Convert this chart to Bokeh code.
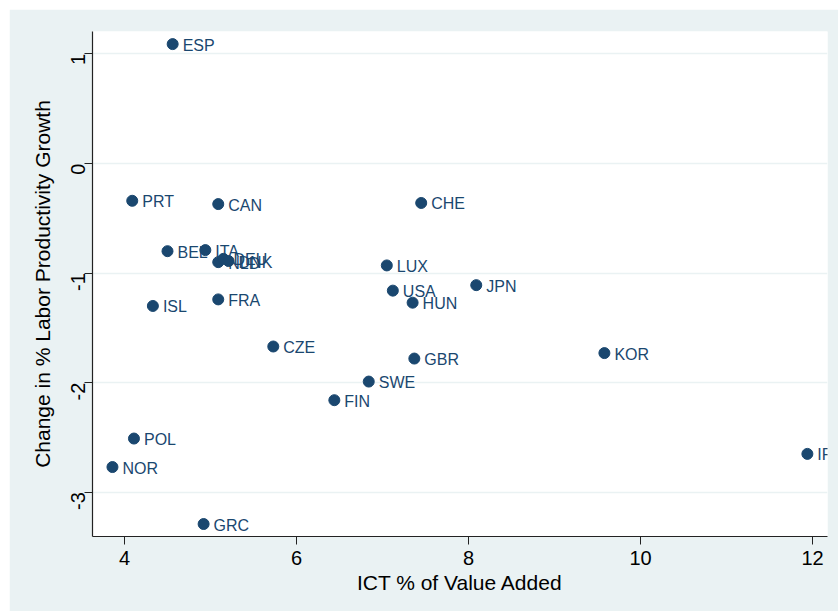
import math
from bokeh.plotting import figure
from bokeh.models import ColumnDataSource, Range1d, FixedTicker, PrintfTickFormatter
from bokeh.core.properties import value
from bokeh.embed import file_html
from bokeh.resources import INLINE

countries = ["ESP", "PRT", "CAN", "CHE", "BEL", "ITA", "NLD", "DEU", "DNK",
             "ISL", "FRA", "LUX", "USA", "HUN", "JPN", "CZE", "GBR", "KOR",
             "SWE", "FIN", "POL", "NOR", "GRC", "IRL"]
ict = [4.56, 4.09, 5.09, 7.45, 4.50, 4.94, 5.09, 5.15, 5.21,
       4.33, 5.09, 7.05, 7.12, 7.35, 8.09, 5.73, 7.37, 9.58,
       6.84, 6.44, 4.11, 3.86, 4.92, 11.94]
prod = [1.09, -0.34, -0.37, -0.36, -0.80, -0.79, -0.90, -0.87, -0.89,
        -1.30, -1.24, -0.93, -1.16, -1.27, -1.11, -1.67, -1.78, -1.73,
        -1.99, -2.16, -2.51, -2.77, -3.29, -2.65]
x_ticks = [4, 6, 8, 10, 12]
y_ticks = [-3, -2, -1, 0, 1]

NAVY = "#1a476f"
BG = "#eaf2f3"
FONT = "Liberation Sans"

src = ColumnDataSource(dict(x=ict, y=prod, label=countries))

p = figure(width=829, height=602, output_backend="svg", toolbar_location=None,
           x_range=Range1d(3.628, 12.174), y_range=Range1d(-3.404, 1.205),
           min_border_left=83, min_border_right=11, min_border_top=22,
           min_border_bottom=75)
p.margin = (9, 0, 0, 9)

p.border_fill_color = BG
p.background_fill_color = "white"
p.outline_line_color = None

p.scatter("x", "y", source=src, size=11, fill_color=NAVY, line_color=NAVY)
p.text("x", "y", text="label", source=src, x_offset=10, y_offset=1,
       text_baseline="middle", text_align="left", text_color=NAVY,
       text_font=value(FONT), text_font_size="16px")

p.xgrid.visible = False
p.ygrid.ticker = FixedTicker(ticks=y_ticks)
p.ygrid.grid_line_color = BG
p.ygrid.grid_line_width = 1.5

for ax in (p.xaxis[0], p.yaxis[0]):
    ax.axis_line_color = "#222222"
    ax.axis_line_width = 1.2
    ax.major_tick_line_color = "#222222"
    ax.major_tick_out = 8
    ax.major_tick_in = 0
    ax.minor_tick_out = 0
    ax.minor_tick_in = 0
    ax.major_label_text_font = FONT
    ax.major_label_text_font_size = "20px"
    ax.major_label_text_color = "black"
    ax.axis_label_text_font = FONT
    ax.axis_label_text_font_size = "21px"
    ax.axis_label_text_font_style = "normal"
    ax.axis_label_text_color = "black"
    ax.formatter = PrintfTickFormatter(format="%d")

p.xaxis.ticker = FixedTicker(ticks=x_ticks)
p.yaxis.ticker = FixedTicker(ticks=y_ticks)
p.xaxis.axis_label = "ICT % of Value Added"
p.yaxis.axis_label = "Change in % Labor Productivity Growth"
p.yaxis.major_label_orientation = math.pi / 2
p.xaxis.major_label_standoff = 6
p.yaxis.major_label_standoff = 6
p.xaxis.axis_label_standoff = 3
p.yaxis.axis_label_standoff = 8

open("out.html", "w").write(file_html(p, INLINE))
